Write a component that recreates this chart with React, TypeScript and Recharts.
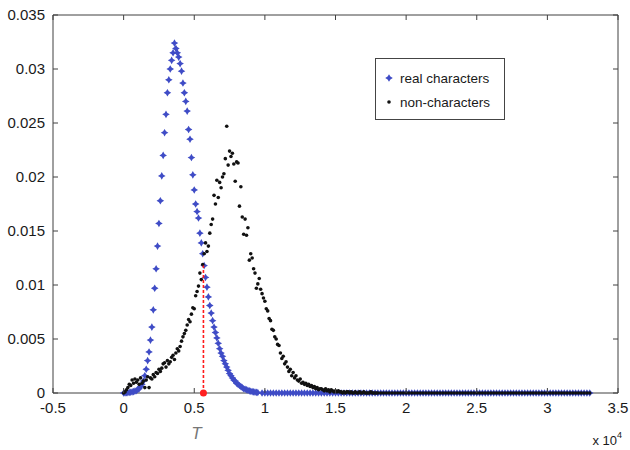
import {
  ScatterChart,
  Scatter,
  XAxis,
  YAxis,
  ReferenceLine,
  ReferenceDot,
  Legend,
  Label
} from 'recharts'

// histogram bins along T
const BIN = 100
const TAIL_BIN = 200

// real characters, T = 0 .. 9500 (step BIN)
const realMain = [
  0, 0, 0.00002, 0.00003, 0.00005, 0.00007, 0.0001, 0.00013, 0.00017, 0.00022,
  0.0003, 0.0004, 0.0006, 0.0008, 0.0011, 0.0016, 0.0022, 0.003, 0.0038, 0.0049,
  0.0061, 0.0077, 0.0097, 0.0115, 0.0136, 0.0157, 0.0178, 0.0201, 0.022, 0.0241,
  0.0258, 0.0278, 0.029, 0.03, 0.0308, 0.0315, 0.0324, 0.0319, 0.0315, 0.0311,
  0.0305, 0.0298, 0.0287, 0.0278, 0.027, 0.0261, 0.0244, 0.0235, 0.0218, 0.0202,
  0.0188, 0.0175, 0.0168, 0.0162, 0.0148, 0.0139, 0.0129, 0.0118, 0.0107, 0.0098,
  0.0089, 0.0081, 0.0074, 0.0067, 0.0061, 0.0056, 0.0051, 0.0046, 0.0041, 0.0037,
  0.0034, 0.003, 0.0027, 0.0024, 0.0021, 0.0018, 0.0016, 0.0014, 0.0012, 0.0011,
  0.0009, 0.0008, 0.0007, 0.0006, 0.0005, 0.0004, 0.00035, 0.0003, 0.00025, 0.0002,
  0.00016, 0.00013, 0.0001, 0.00008, 0.00006, 0.00004
]

// real characters, T = 9800 .. 33000 (step TAIL_BIN)
const REAL_TAIL_START = 9800
const realTail = [
  0, 0, 0, 0, 0, 0, 0, 0, 0, 0, 0, 0, 0,
  0, 0, 0, 0, 0, 0, 0, 0, 0, 0, 0, 0, 0,
  0, 0, 0, 0, 0, 0, 0, 0, 0, 0, 0, 0, 0,
  0, 0, 0, 0, 0, 0, 0, 0, 0, 0, 0, 0, 0,
  0, 0, 0, 0, 0, 0, 0, 0, 0, 0, 0, 0, 0,
  0, 0, 0, 0, 0, 0, 0, 0, 0, 0, 0, 0, 0,
  0, 0, 0, 0, 0, 0, 0, 0, 0, 0, 0, 0, 0,
  0, 0, 0, 0, 0, 0, 0, 0, 0, 0, 0, 0, 0,
  0, 0, 0, 0, 0, 0, 0, 0, 0, 0, 0, 0, 0
]

// non-characters, T = 0 .. 17900 (step BIN)
const nonMain = [
  0, 0.0001, 0.0003, 0.0005, 0.0008, 0.0007, 0.0012, 0.0009, 0.0013, 0.001,
  0.0012, 0.0008, 0.0014, 0.0009, 0.0011, 0.0005, 0.0012, 0.0015, 0.0005, 0.0014,
  0.0013, 0.0017, 0.0015, 0.0019, 0.0018, 0.0022, 0.002, 0.0023, 0.0027, 0.0028,
  0.0024, 0.003, 0.0027, 0.0029, 0.0033, 0.0035, 0.0031, 0.0037, 0.0041, 0.0039,
  0.0043, 0.0048, 0.0052, 0.0055, 0.0058, 0.0063, 0.0068, 0.0066, 0.0073, 0.0079,
  0.0078, 0.009, 0.0094, 0.0099, 0.0111, 0.0105, 0.0119, 0.0129, 0.0139, 0.0131,
  0.0136, 0.0148, 0.0156, 0.0161, 0.0183, 0.0175, 0.0197, 0.0181, 0.0195, 0.019,
  0.02, 0.0203, 0.0217, 0.0247, 0.0211, 0.0224, 0.0219, 0.0222, 0.0212, 0.0196,
  0.0214, 0.0213, 0.0173, 0.0191, 0.0163, 0.0147, 0.0161, 0.0146, 0.0153, 0.0123,
  0.0129, 0.0125, 0.0115, 0.0111, 0.0097, 0.0101, 0.0106, 0.0096, 0.0092, 0.0088,
  0.0085, 0.0078, 0.0076, 0.0069, 0.0067, 0.0059, 0.0058, 0.0052, 0.005, 0.0045,
  0.0044, 0.0037, 0.0032, 0.0034, 0.0027, 0.0029, 0.0024, 0.002, 0.0022, 0.0016,
  0.0019, 0.0014, 0.0016, 0.0012, 0.0011, 0.0013, 0.0009, 0.001, 0.0008, 0.0009,
  0.0007, 0.0008, 0.0006, 0.0007, 0.0005, 0.0006, 0.0004, 0.0005, 0.0003, 0.0004,
  0.0004, 0.0003, 0.0002, 0.0004, 0.0002, 0.0003, 0.0001, 0.0003, 0.0002, 0.0001,
  0.0002, 0.0001, 0.0002, 0.0001, 0.0001, 0, 0.0001, 0, 0.0001, 0.0001,
  0, 0.0001, 0, 0, 0.0001, 0, 0, 0.0001, 0, 0,
  0.0001, 0, 0, 0, 0, 0.0001, 0, 0, 0, 0
]

// non-characters, T = 18000 .. 33000 (step TAIL_BIN)
const NON_TAIL_START = 18000
const nonTail = [
  0, 0, 0, 0, 0, 0, 0, 0, 0, 0,
  0, 0, 0, 0, 0, 0, 0, 0, 0, 0,
  0, 0, 0, 0, 0, 0, 0, 0, 0, 0,
  0, 0, 0, 0, 0, 0, 0, 0, 0, 0,
  0, 0, 0, 0, 0, 0, 0, 0, 0, 0,
  0, 0, 0, 0, 0, 0, 0, 0, 0, 0,
  0, 0, 0, 0, 0, 0, 0, 0, 0, 0,
  0, 0, 0, 0, 0, 0
]

const xTicks = [-5000, 0, 5000, 10000, 15000, 20000, 25000, 30000, 35000]
const yTicks = [0, 0.005, 0.01, 0.015, 0.02, 0.025, 0.03, 0.035]

// chosen threshold T and the height where the two curves cross
const threshold = 5650
const crossing = 0.0118

const realData = [
  ...realMain.map((p, i) => ({ t: i * BIN, p })),
  ...realTail.map((p, i) => ({ t: REAL_TAIL_START + i * TAIL_BIN, p }))
]
const nonData = [
  ...nonMain.map((p, i) => ({ t: i * BIN, p })),
  ...nonTail.map((p, i) => ({ t: NON_TAIL_START + i * TAIL_BIN, p }))
]

const AXIS = '#404040'
const TEXT = '#1a1a1a'
const BLUE = '#3f4cc6'
const FONT = '"Liberation Sans", Arial, sans-serif'

const Star = ({ cx, cy, fill }: any) => (
  <path
    d={`M${cx - 3.8},${cy} L${cx - 1.4},${cy - 1.4} L${cx},${cy - 3.8} L${cx + 1.4},${cy - 1.4} L${cx + 3.8},${cy} L${cx + 1.4},${cy + 1.4} L${cx},${cy + 3.8} L${cx - 1.4},${cy + 1.4} Z`}
    fill={fill}
  />
)

const Dot = ({ cx, cy }: any) => <circle cx={cx} cy={cy} r={1.8} fill='#111' />

const Nothing = () => <g />

const BottomTick = ({ x, y, payload }: any) => (
  <g>
    <line x1={x} y1={y} x2={x} y2={y - 5} stroke={AXIS} />
    <text x={x} y={y + 20} textAnchor='middle' fontSize={15} fill={TEXT}>
      {payload.value / 10000}
    </text>
  </g>
)

const TopTick = ({ x, y }: any) => <line x1={x} y1={y} x2={x} y2={y + 5} stroke={AXIS} />

const LeftTick = ({ x, y, payload }: any) => (
  <g>
    <line x1={x} y1={y} x2={x + 5} y2={y} stroke={AXIS} />
    <text x={x - 8} y={y + 5} textAnchor='end' fontSize={15} fill={TEXT}>
      {payload.value}
    </text>
  </g>
)

const RightTick = ({ x, y }: any) => <line x1={x} y1={y} x2={x - 5} y2={y} stroke={AXIS} />

const LegendBox = () => (
  <div
    style={{
      border: '1px solid #444',
      background: '#fff',
      width: 128,
      height: 60,
      fontSize: 13.5,
      color: TEXT,
      fontFamily: FONT,
      boxSizing: 'content-box'
    }}
  >
    <div style={{ display: 'flex', alignItems: 'center', height: 24, marginTop: 7 }}>
      <svg width={22} height={12}>
        <Star cx={13} cy={6} fill={BLUE} />
      </svg>
      <span style={{ marginLeft: 2 }}>real characters</span>
    </div>
    <div style={{ display: 'flex', alignItems: 'center', height: 24 }}>
      <svg width={22} height={12}>
        <circle cx={13} cy={6} r={1.8} fill='#111' />
      </svg>
      <span style={{ marginLeft: 2 }}>non-characters</span>
    </div>
  </div>
)

export default function App() {
  return (
    <div style={{ position: 'absolute', left: 0, top: 0, width: 630, height: 450, background: '#fff', fontFamily: FONT }}>
      <ScatterChart width={630} height={450} margin={{ top: 14, right: 11, bottom: 0, left: 0 }}>
        <XAxis
          dataKey='t'
          type='number'
          domain={[-5000, 35000]}
          ticks={xTicks}
          interval={0}
          height={57}
          tickSize={0}
          tickMargin={0}
          tickLine={false}
          axisLine={{ stroke: AXIS }}
          tick={BottomTick}
        >
          <Label
            content={({ viewBox }: any) => (
              <text x={viewBox.x + viewBox.width + 4} y={viewBox.y + 52} textAnchor='end' fontSize={13} fill={TEXT}>
                x 10<tspan dy={-7} fontSize={9}>4</tspan>
              </text>
            )}
          />
        </XAxis>
        <XAxis
          xAxisId='top'
          dataKey='t'
          orientation='top'
          type='number'
          domain={[-5000, 35000]}
          ticks={xTicks}
          interval={0}
          height={1}
          allowDataOverflow
          tickSize={0}
          tickMargin={0}
          tickLine={false}
          axisLine={{ stroke: AXIS }}
          tick={TopTick}
        />
        <YAxis
          dataKey='p'
          type='number'
          domain={[0, 0.035]}
          ticks={yTicks}
          interval={0}
          width={53}
          tickSize={0}
          tickMargin={0}
          tickLine={false}
          axisLine={{ stroke: AXIS }}
          tick={LeftTick}
        />
        <YAxis
          yAxisId='right'
          dataKey='p'
          orientation='right'
          type='number'
          domain={[0, 0.035]}
          ticks={yTicks}
          interval={0}
          width={1}
          allowDataOverflow
          tickSize={0}
          tickMargin={0}
          tickLine={false}
          axisLine={{ stroke: AXIS }}
          tick={RightTick}
        />
        {/* invisible series that ties the top and right frame axes to the data */}
        <Scatter
          xAxisId='top'
          yAxisId='right'
          data={realData}
          shape={Nothing}
          legendType='none'
          isAnimationActive={false}
        />
        <Scatter name='real characters' data={realData} fill={BLUE} shape={Star} isAnimationActive={false} />
        <Scatter name='non-characters' data={nonData} fill='#111' shape={Dot} isAnimationActive={false} />
        <ReferenceLine
          segment={[{ x: threshold, y: 0 }, { x: threshold, y: crossing }]}
          stroke='#ff1a1a'
          strokeWidth={1.6}
          strokeDasharray='3 2'
          zIndex={1000}
        />
        <ReferenceDot
          x={threshold}
          y={0}
          r={3.5}
          fill='#ff2020'
          stroke='none'
          ifOverflow='visible'
          zIndex={1000}
          label={{
            content: ({ viewBox }: any) => (
              <text
                x={viewBox.x + viewBox.width / 2 - 7}
                y={viewBox.y + 49}
                textAnchor='middle'
                fontSize={17}
                fontStyle='italic'
                fill='#777'
              >
                T
              </text>
            )
          }}
        />
        <Legend
          layout='vertical'
          align='center'
          verticalAlign='middle'
          content={LegendBox}
          wrapperStyle={{ left: 375, top: 58, width: 130, height: 62 }}
        />
      </ScatterChart>
    </div>
  )
}
